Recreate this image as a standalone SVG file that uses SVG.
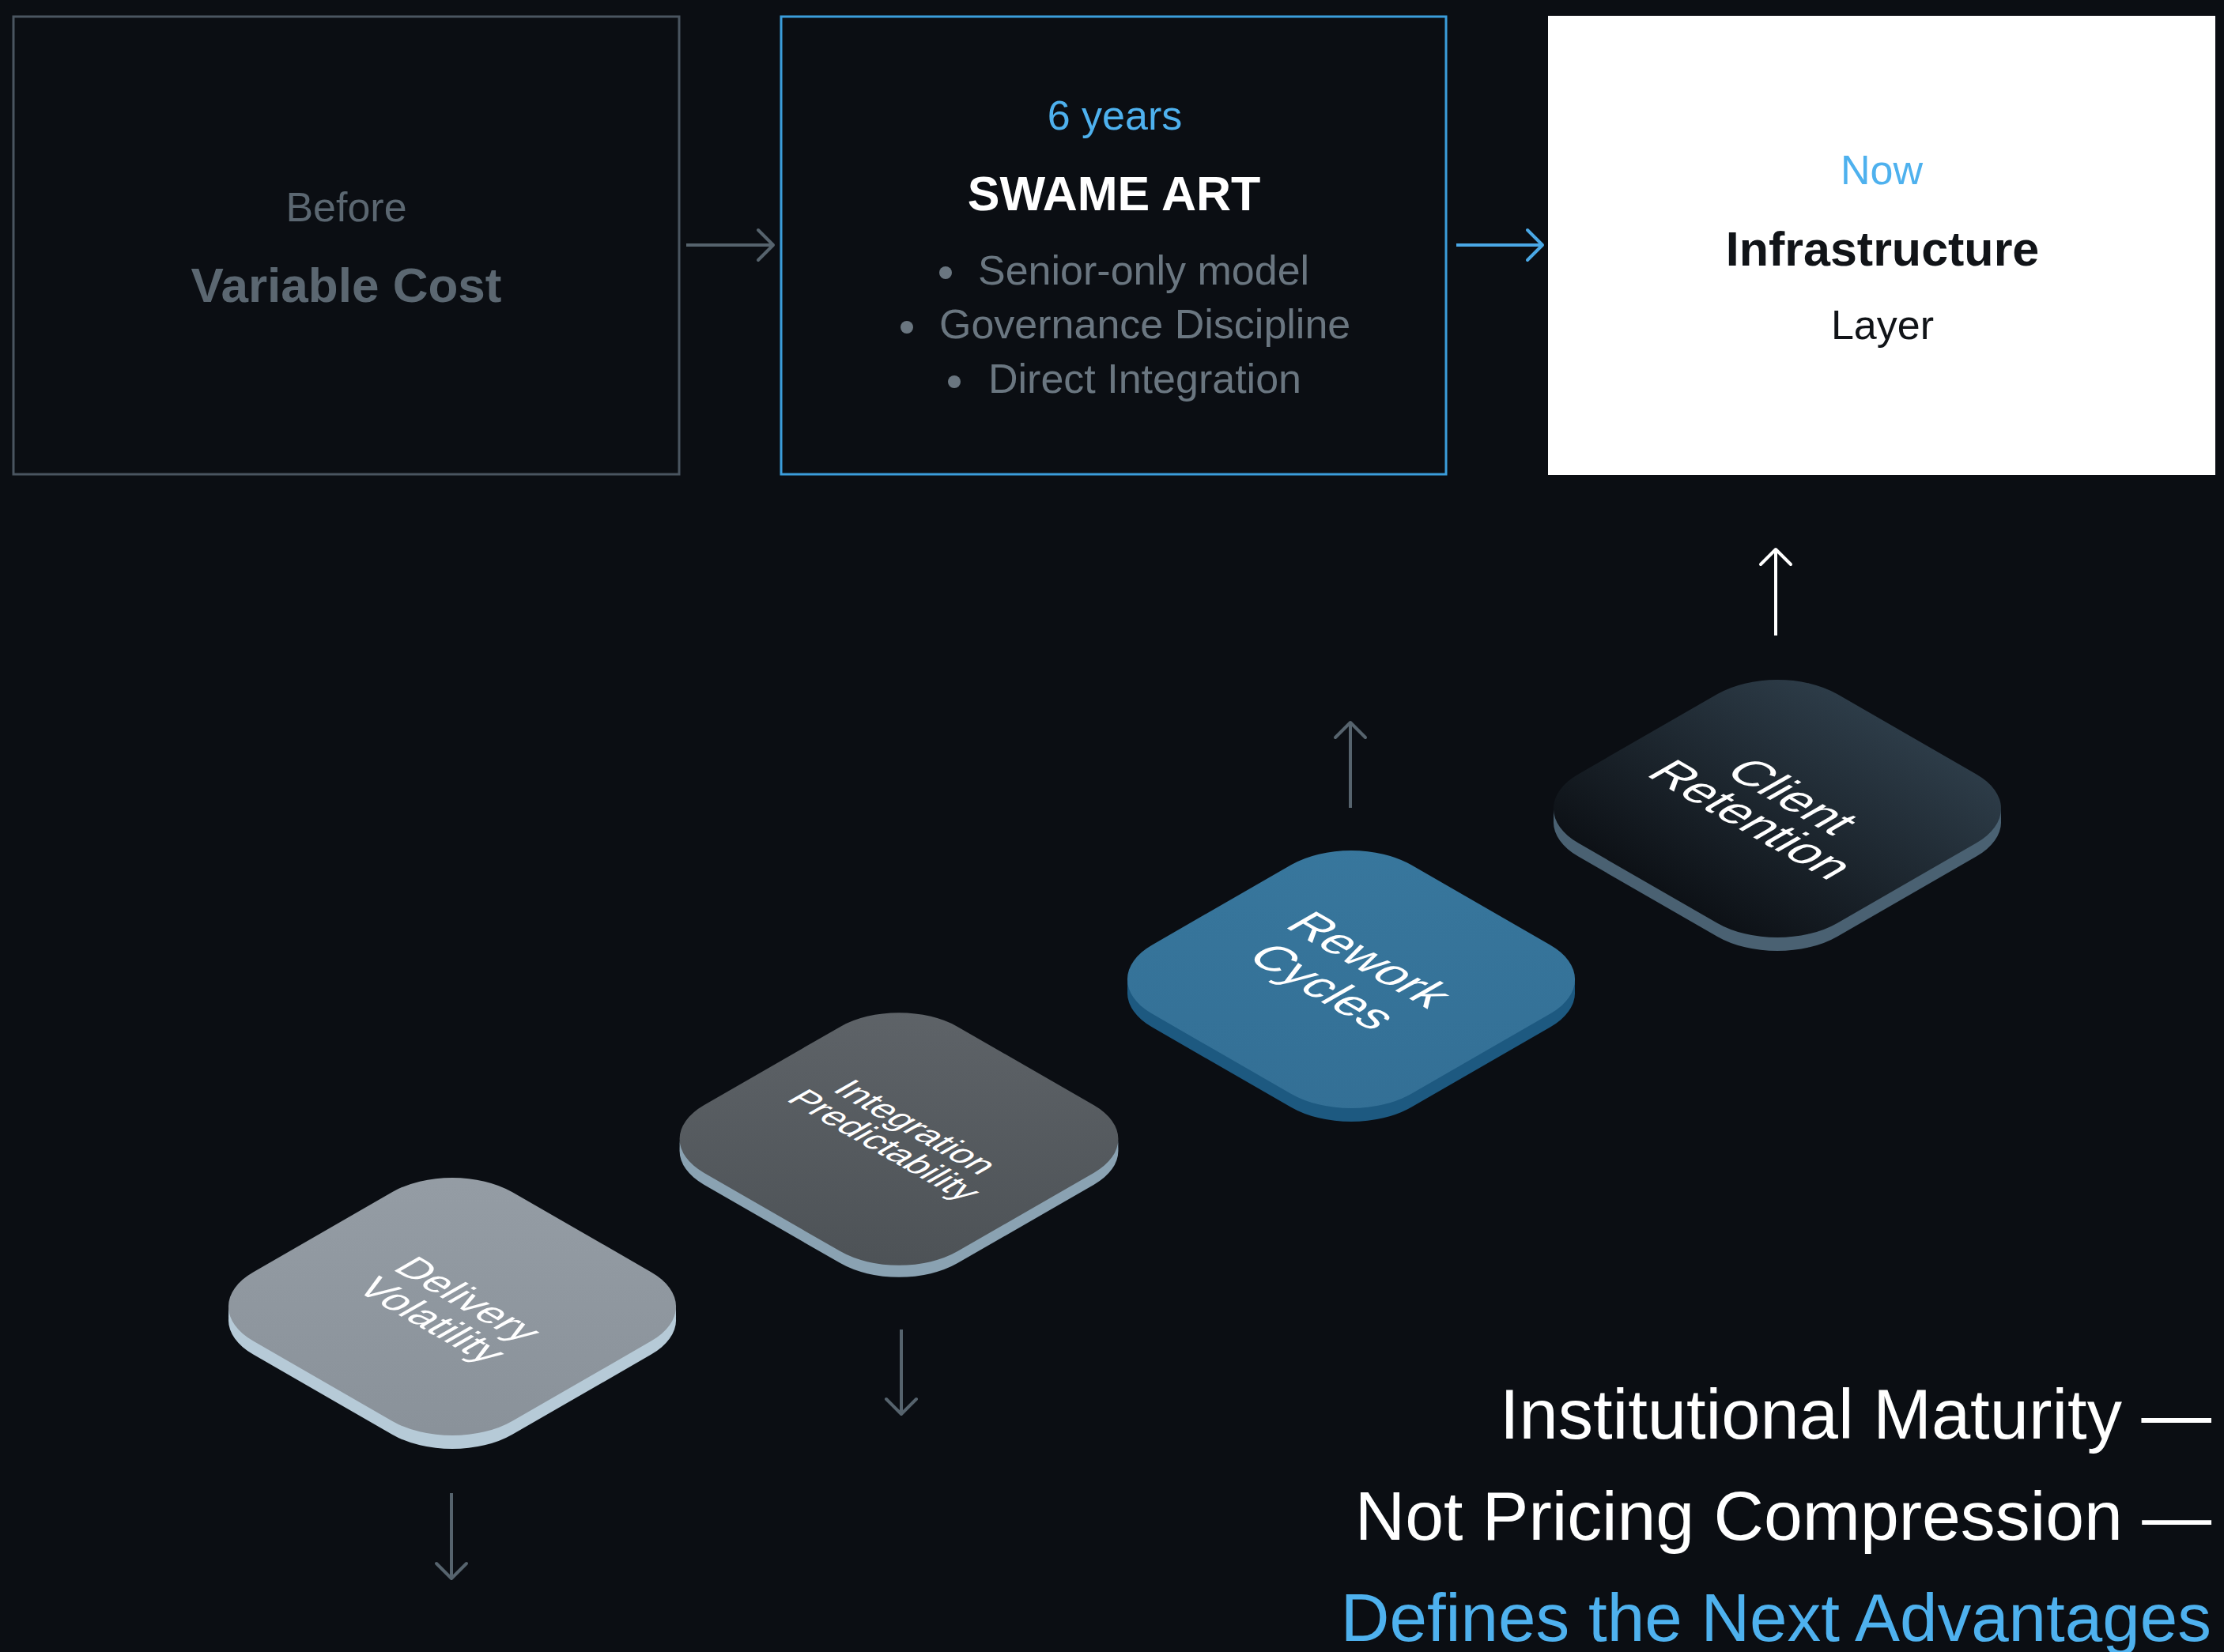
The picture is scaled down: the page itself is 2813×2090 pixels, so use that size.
<svg xmlns="http://www.w3.org/2000/svg" xmlns:xlink="http://www.w3.org/1999/xlink" width="2813" height="2090" viewBox="0 0 2813 2090">
  <style>
    text { font-family: "Liberation Sans", Arial, sans-serif; }
    .mid { text-anchor: middle; }
    .end { text-anchor: end; }
    .label { font-size: 52px; }
    .title { font-size: 62px; font-weight: bold; }
    .blue { fill: #4eb1ee; }
    .muted { fill: #5b6771; }
    .bullet { fill: #6a7680; }
    .tag { fill: #ffffff; }
    .conn { fill: none; stroke-width: 4; }
    .gray { stroke: #56636d; }
  </style>
  <defs>
    <!-- rounded square used for every isometric tile (local, un-projected coordinates) -->
    <rect id="sq" x="-231.5" y="-231.5" width="463" height="463" rx="107" ry="107"/>
    <linearGradient id="g-delivery" x1="0" y1="0" x2="1" y2="1">
      <stop offset="0" stop-color="#959da5"/>
      <stop offset="1" stop-color="#899199"/>
    </linearGradient>
    <linearGradient id="g-integration" x1="0" y1="0" x2="1" y2="1">
      <stop offset="0" stop-color="#5f6469"/>
      <stop offset="1" stop-color="#4c5155"/>
    </linearGradient>
    <linearGradient id="g-rework" x1="0" y1="0" x2="1" y2="1">
      <stop offset="0" stop-color="#38779d"/>
      <stop offset="1" stop-color="#336f95"/>
    </linearGradient>
    <linearGradient id="g-client" x1="0" y1="0" x2="0" y2="1">
      <stop offset="0" stop-color="#2d3c48"/>
      <stop offset="1" stop-color="#0d1116"/>
    </linearGradient>
    <marker id="head-gray" viewBox="0 0 26 42" refX="19" refY="21" markerWidth="26" markerHeight="42" markerUnits="userSpaceOnUse" orient="auto" overflow="visible">
      <path d="M2,2 L21,21 L2,40" fill="none" stroke="#56636d" stroke-width="4" stroke-linecap="round" stroke-linejoin="round"/>
    </marker>
    <marker id="head-blue" viewBox="0 0 26 42" refX="19" refY="21" markerWidth="26" markerHeight="42" markerUnits="userSpaceOnUse" orient="auto" overflow="visible">
      <path d="M2,2 L21,21 L2,40" fill="none" stroke="#4aa8e6" stroke-width="4" stroke-linecap="round" stroke-linejoin="round"/>
    </marker>
    <marker id="head-white" viewBox="0 0 26 42" refX="19" refY="21" markerWidth="26" markerHeight="42" markerUnits="userSpaceOnUse" orient="auto" overflow="visible">
      <path d="M2,2 L21,21 L2,40" fill="none" stroke="#ffffff" stroke-width="4" stroke-linecap="round" stroke-linejoin="round"/>
    </marker>
  </defs>

  <rect width="2813" height="2090" fill="#0b0e13"/>

  <!-- timeline boxes -->
  <g id="before">
    <rect x="17" y="21" width="842" height="579" fill="none" stroke="#4a5560" stroke-width="3"/>
    <text class="label muted mid" x="438" y="280">Before</text>
    <text class="title muted mid" x="438" y="382">Variable Cost</text>
  </g>

  <g id="swame-art">
    <rect x="988" y="21" width="841" height="579" fill="none" stroke="#3b9ddb" stroke-width="3"/>
    <text class="label blue mid" x="1410" y="164">6 years</text>
    <text class="mid" x="1409" y="266" font-size="61" font-weight="bold" fill="#ffffff">SWAME ART</text>
    <circle cx="1196" cy="345" r="8" fill="#6a7680"/>
    <text class="label bullet" x="1237" y="360">Senior-only model</text>
    <circle cx="1147" cy="414" r="8" fill="#6a7680"/>
    <text class="label bullet" x="1188" y="428">Governance Discipline</text>
    <circle cx="1207" cy="483" r="8" fill="#6a7680"/>
    <text class="label bullet" x="1250" y="497">Direct Integration</text>
  </g>

  <g id="now">
    <rect x="1958" y="20" width="844" height="581" fill="#ffffff"/>
    <text class="label blue mid" x="2380" y="233">Now</text>
    <text class="mid" x="2381" y="336" font-size="61" font-weight="bold" fill="#111418">Infrastructure</text>
    <text class="label mid" x="2381" y="429" fill="#111418">Layer</text>
  </g>

  <!-- isometric tiles: slab copies below, projected top face above -->
  <g id="tile-delivery" transform="translate(572,1653)">
    <g fill="#b6cad7">
      <use xlink:href="#sq" transform="translate(0,6) matrix(0.7071 0.4073 -0.7071 0.4073 0 0)"/>
      <use xlink:href="#sq" transform="translate(0,12) matrix(0.7071 0.4073 -0.7071 0.4073 0 0)"/>
      <use xlink:href="#sq" transform="translate(0,17) matrix(0.7071 0.4073 -0.7071 0.4073 0 0)"/>
    </g>
    <g transform="matrix(0.7071 0.4073 -0.7071 0.4073 0 0)">
      <use xlink:href="#sq" fill="url(#g-delivery)"/>
      <text class="tag mid" font-size="64"><tspan x="3" y="-4">Delivery</tspan><tspan x="3" y="61">Volatility</tspan></text>
    </g>
  </g>

  <g id="tile-integration" transform="translate(1137,1441)">
    <g fill="#8aa2b2">
      <use xlink:href="#sq" transform="translate(0,6) matrix(0.6930 0.3992 -0.6930 0.3992 0 0)"/>
      <use xlink:href="#sq" transform="translate(0,11) matrix(0.6930 0.3992 -0.6930 0.3992 0 0)"/>
      <use xlink:href="#sq" transform="translate(0,15) matrix(0.6930 0.3992 -0.6930 0.3992 0 0)"/>
    </g>
    <use xlink:href="#sq" fill="url(#g-integration)" transform="matrix(0.6930 0.3992 -0.6930 0.3992 0 0)"/>
    <g transform="matrix(0.7071 0.4073 -0.7071 0.4073 0 0)">
      <text class="tag mid" font-size="56"><tspan x="-3.5" y="-15">Integration</tspan><tspan x="-3.5" y="41">Predictability</tspan></text>
    </g>
  </g>

  <g id="tile-rework" transform="translate(1709,1239)">
    <g fill="#1d5980">
      <use xlink:href="#sq" transform="translate(0,6) matrix(0.7071 0.4073 -0.7071 0.4073 0 0)"/>
      <use xlink:href="#sq" transform="translate(0,12) matrix(0.7071 0.4073 -0.7071 0.4073 0 0)"/>
      <use xlink:href="#sq" transform="translate(0,17) matrix(0.7071 0.4073 -0.7071 0.4073 0 0)"/>
    </g>
    <g transform="matrix(0.7071 0.4073 -0.7071 0.4073 0 0)">
      <use xlink:href="#sq" fill="url(#g-rework)"/>
      <text class="tag mid" font-size="76"><tspan x="-14" y="-22">Rework</tspan><tspan x="-14" y="62">Cycles</tspan></text>
    </g>
  </g>

  <g id="tile-client" transform="translate(2248,1023)">
    <g fill="#4a6172">
      <use xlink:href="#sq" transform="translate(0,6) matrix(0.7071 0.4073 -0.7071 0.4073 0 0)"/>
      <use xlink:href="#sq" transform="translate(0,12) matrix(0.7071 0.4073 -0.7071 0.4073 0 0)"/>
      <use xlink:href="#sq" transform="translate(0,17) matrix(0.7071 0.4073 -0.7071 0.4073 0 0)"/>
    </g>
    <g transform="matrix(0.7071 0.4073 -0.7071 0.4073 0 0)">
      <use xlink:href="#sq" fill="url(#g-client)"/>
      <text class="tag mid" font-size="77"><tspan x="-6" y="-7">Client</tspan><tspan x="-6" y="66">Retention</tspan></text>
    </g>
  </g>

  <!-- connectors -->
  <g id="connectors">
    <line class="conn gray" x1="868" y1="310" x2="976" y2="310" marker-end="url(#head-gray)"/>
    <line class="conn" stroke="#4aa8e6" x1="1842" y1="310" x2="1949" y2="310" marker-end="url(#head-blue)"/>
    <line class="conn gray" x1="571" y1="1889" x2="571" y2="1995" marker-end="url(#head-gray)"/>
    <line class="conn gray" x1="1140" y1="1682" x2="1140" y2="1787" marker-end="url(#head-gray)"/>
    <line class="conn gray" x1="1708" y1="1022" x2="1708" y2="916" marker-end="url(#head-gray)"/>
    <line class="conn" stroke="#ffffff" x1="2246" y1="804" x2="2246" y2="697" marker-end="url(#head-white)"/>
  </g>

  <!-- closing statement -->
  <g id="statement">
    <text class="end" x="2797" y="1820" font-size="88.5" fill="#ffffff">Institutional Maturity —</text>
    <text class="end" x="2797" y="1948" font-size="87.8" fill="#ffffff">Not Pricing Compression —</text>
    <text class="end blue" x="2797" y="2076" font-size="85.4">Defines the Next Advantages</text>
  </g>
</svg>
